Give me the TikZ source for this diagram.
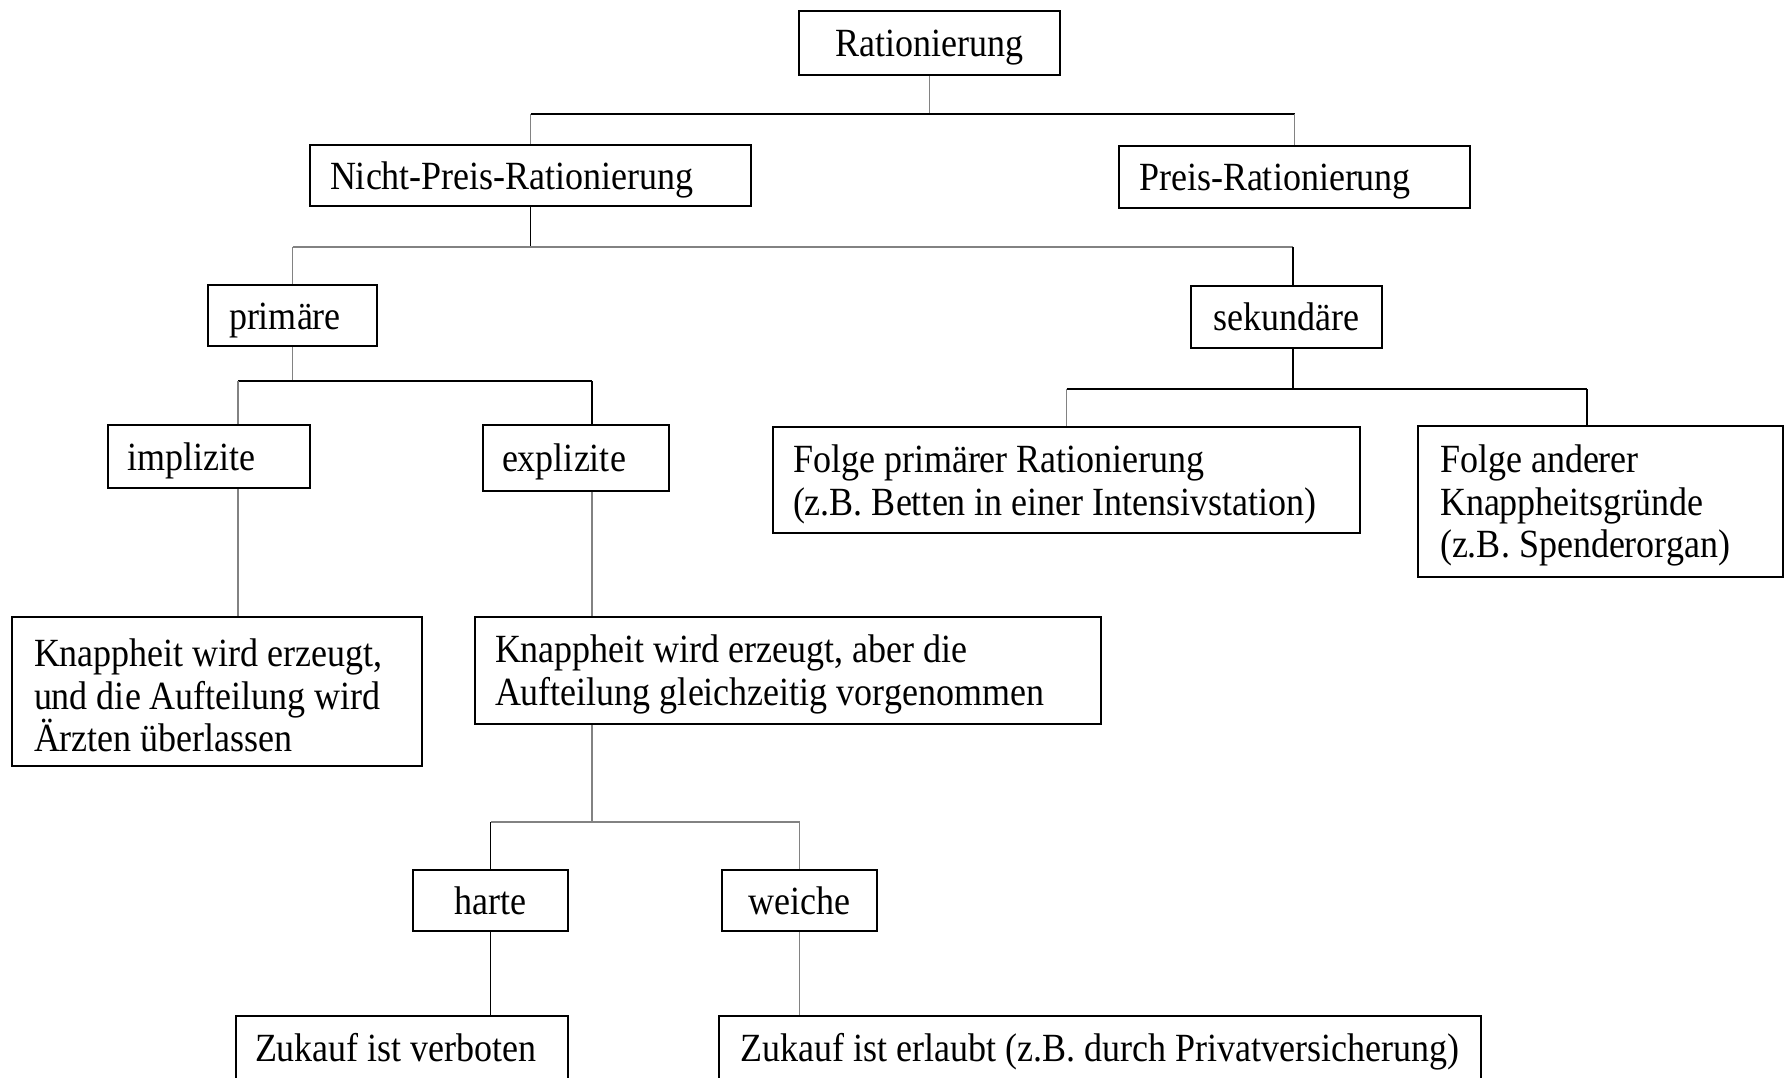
\documentclass[tikz,border=0pt]{standalone}
\usepackage{fontspec}
\setmainfont{Liberation Serif}[FakeStretch=0.9]
\definecolor{lgray}{RGB}{130,130,130}
\begin{document}
\begin{tikzpicture}[x=1pt,y=-1pt,
  bx/.style={draw=black, line width=2.4pt, inner ysep=0pt, text height=36pt,
    font=\fontsize{40}{42.5}\selectfont,
    execute at begin node={\spaceskip=0pt\xspaceskip=0pt\relax}},
  one/.style={text depth=9pt},
  lft/.style={align=left},
  lk/.style={draw=black, line width=1.6pt},
  lg/.style={draw=lgray, line width=1.8pt}]
\useasboundingbox (0,0) rectangle (1785,1077);
\clip (0,0) rectangle (1785,1077);

% boxes
\node[bx, one, minimum width=261pt, minimum height=64pt, inner xsep=0pt, align=center] (rat) at (929.5,43) {Rationierung};
\node[bx, one, lft, minimum height=61pt, text width=401pt, inner xsep=20pt] (npr) at (530.5,175.5) {Nicht-Preis-Rationierung};
\node[bx, one, lft, minimum height=62pt, text width=311pt, inner xsep=20pt] (pr) at (1294.5,177) {Preis-Rationierung};
\node[bx, one, lft, minimum height=61pt, text width=127pt, inner xsep=21pt] (pri) at (292.5,315.5) {primäre};
\node[bx, one, minimum width=191pt, minimum height=62pt, inner xsep=0pt, align=center] (sek) at (1286.5,317) {sekundäre};
\node[bx, one, lft, minimum height=63pt, text width=164pt, inner xsep=19pt] (imp) at (209,456.5) {implizite};
\node[bx, one, lft, minimum height=66pt, text width=148pt, inner xsep=19pt] (exp) at (576,458) {explizite};
\node[bx, lft, minimum height=106pt, text width=547pt, inner xsep=20pt] (fpr) at (1066.5,480) {Folge primärer Rationierung\\(z.B. Betten in einer Intensivstation)};
\node[bx, lft, minimum height=151pt, text width=321pt, inner xsep=22pt] (fan) at (1600.5,501.5) {Folge anderer\\Knappheitsgründe\\(z.B. Spenderorgan)};
\node[bx, lft, minimum height=149pt, text width=366pt, inner xsep=22pt] (kn1) at (217,691.5) {Knappheit wird erzeugt,\\und die Aufteilung wird\\Ärzten überlassen};
\node[bx, lft, minimum height=107pt, text width=586pt, inner xsep=20pt] (kn2) at (788,670.5) {Knappheit wird erzeugt, aber die\\Aufteilung gleichzeitig vorgenommen};
\node[bx, one, minimum width=155pt, minimum height=61pt, inner xsep=0pt, align=center] (har) at (490.5,900.5) {harte};
\node[bx, one, minimum width=155pt, minimum height=61pt, inner xsep=0pt, align=center] (wei) at (799.5,900.5) {weiche};
\node[bx, one, lft, minimum height=64pt, text width=294pt, inner xsep=19pt] (zk1) at (402,1048) {Zukauf ist verboten};
\node[bx, one, minimum width=762pt, minimum height=64pt, inner xsep=0pt, align=center] (zk2) at (1100,1048) {Zukauf ist erlaubt (z.B. durch Privatversicherung)};

% junction coordinates
\coordinate (h1) at (928,114);
\coordinate (h2) at (528,247);
\coordinate (h3) at (297,381);
\coordinate (h4) at (1293,389);
\coordinate (h5) at (592,822);
\coordinate (xs) at (1293,0);
\coordinate (xi) at (238,0);
\coordinate (xe) at (592,0);
\coordinate (xf) at (1587,0);

% connectors
\draw[lg] (rat.south) -- (rat.south |- h1);
\draw[lk] (npr.north |- h1) -- (pr.north |- h1);
\draw[lg] (npr.north |- h1) -- (npr.north);
\draw[lg] (pr.north |- h1) -- (pr.north);

\draw[lk] (npr.south) -- (npr.south |- h2);
\draw[lg] (pri.north |- h2) -- (xs |- h2);
\draw[lg] (pri.north |- h2) -- (pri.north);
\draw[lk] (xs |- h2) -- (xs |- sek.north);

\draw[lg] (pri.south) -- (pri.south |- h3);
\draw[lk] (xi |- h3) -- (xe |- h3);
\draw[lg] (xi |- h3) -- (xi |- imp.north);
\draw[lk] (xe |- h3) -- (xe |- exp.north);

\draw[lk] (xs |- sek.south) -- (h4);
\draw[lk] (fpr.north |- h4) -- (xf |- h4);
\draw[lg] (fpr.north |- h4) -- (fpr.north);
\draw[lk] (xf |- h4) -- (xf |- fan.north);

\draw[lg] (xi |- imp.south) -- (xi |- kn1.north);
\draw[lg] (xe |- exp.south) -- (xe |- kn2.north);

\draw[lg] (xe |- kn2.south) -- (h5);
\draw[lg] (har.north |- h5) -- (wei.north |- h5);
\draw[lk] (har.north |- h5) -- (har.north);
\draw[lg] (wei.north |- h5) -- (wei.north);

\draw[lk] (har.south) -- (har.south |- zk1.north);
\draw[lg] (wei.south) -- (wei.south |- zk2.north);
\end{tikzpicture}
\end{document}
